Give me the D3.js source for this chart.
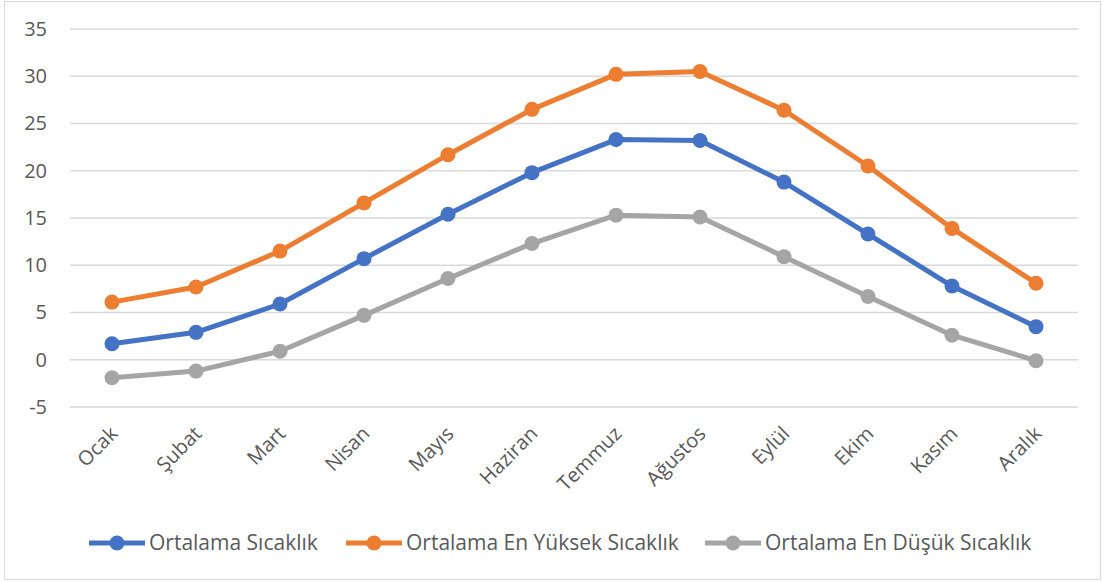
<!DOCTYPE html>
<html>
<head>
<meta charset="utf-8">
<script src="https://cdn.jsdelivr.net/npm/d3@7"></script>
<style>
  body { margin: 0; background: #fff; }
  text { font-family: "Open Sans", "Noto Sans", sans-serif; fill: #595959; }
</style>
</head>
<body>
<svg id="chart" width="1103" height="582"></svg>
<script>
const months = ['Ocak', 'Şubat', 'Mart', 'Nisan', 'Mayıs', 'Haziran', 'Temmuz', 'Ağustos', 'Eylül', 'Ekim', 'Kasım', 'Aralık'];
const ortalama = [1.7, 2.9, 5.9, 10.7, 15.4, 19.8, 23.3, 23.2, 18.8, 13.3, 7.8, 3.5];
const enYuksek = [6.1, 7.7, 11.5, 16.6, 21.7, 26.5, 30.2, 30.5, 26.4, 20.5, 13.9, 8.1];
const enDusuk = [-1.9, -1.2, 0.9, 4.7, 8.6, 12.3, 15.3, 15.1, 10.9, 6.7, 2.6, -0.1];
const yTicks = [-5, 0, 5, 10, 15, 20, 25, 30, 35];

const series = [
  { name: 'Ortalama Sıcaklık', values: ortalama, color: '#4472c4' },
  { name: 'Ortalama En Yüksek Sıcaklık', values: enYuksek, color: '#ed7d31' },
  { name: 'Ortalama En Düşük Sıcaklık', values: enDusuk, color: '#a5a5a5' }
];

const width = 1103, height = 582;
const margin = { top: 29, right: 25, bottom: 175, left: 70 };

const svg = d3.select('#chart');

// chart border
svg.append('rect')
  .attr('x', 4.5).attr('y', 1.5)
  .attr('width', width - 7).attr('height', height - 4)
  .attr('fill', 'none').attr('stroke', '#d9d9d9');

const x = d3.scalePoint()
  .domain(months)
  .range([margin.left, width - margin.right])
  .padding(0.5);

const y = d3.scaleLinear()
  .domain([-5, 35])
  .range([407, margin.top]);

// gridlines
svg.append('g')
  .selectAll('line')
  .data(yTicks)
  .join('line')
  .attr('x1', margin.left).attr('x2', width - margin.right)
  .attr('y1', d => y(d)).attr('y2', d => y(d))
  .attr('stroke', '#d9d9d9').attr('stroke-width', 1.5);

// y axis labels
const yAxis = svg.append('g')
  .attr('transform', `translate(47, 0)`)
  .call(d3.axisLeft(y).tickValues(yTicks).tickSize(0).tickPadding(0)
    .tickFormat(d => d < 0 ? '-' + Math.abs(d) : d));
yAxis.select('.domain').remove();
yAxis.selectAll('text').style('font-size', '20px').style('font-family', '"Open Sans", sans-serif').attr('fill', '#595959');

// x axis labels, rotated
svg.append('g')
  .selectAll('text')
  .data(months)
  .join('text')
  .attr('transform', d => `translate(${x(d) - 3}, 425) rotate(-45)`)
  .attr('text-anchor', 'end')
  .attr('dy', '0.7em')
  .style('font-size', '20px')
  .text(d => d);

// lines + markers
const line = d3.line()
  .x((d, i) => x(months[i]))
  .y(d => y(d));

series.forEach(s => {
  svg.append('path')
    .datum(s.values)
    .attr('d', line)
    .attr('fill', 'none')
    .attr('stroke', s.color)
    .attr('stroke-width', 5)
    .attr('stroke-linejoin', 'round')
    .attr('stroke-linecap', 'round');

  svg.append('g')
    .selectAll('circle')
    .data(s.values)
    .join('circle')
    .attr('cx', (d, i) => x(months[i]))
    .attr('cy', d => y(d))
    .attr('r', 7.5)
    .attr('fill', s.color);
});

// legend
const legendX = [89, 346, 705];
const legend = svg.append('g');
series.forEach((s, i) => {
  const g = legend.append('g').attr('transform', `translate(${legendX[i]}, 543)`);
  g.append('line')
    .attr('x1', 0).attr('x2', 56)
    .attr('stroke', s.color).attr('stroke-width', 5);
  g.append('circle').attr('cx', 28).attr('r', 7.5).attr('fill', s.color);
  g.append('text')
    .attr('x', 60)
    .attr('dy', '0.35em')
    .style('font-size', '21px')
    .text(s.name);
});
</script>
</body>
</html>
